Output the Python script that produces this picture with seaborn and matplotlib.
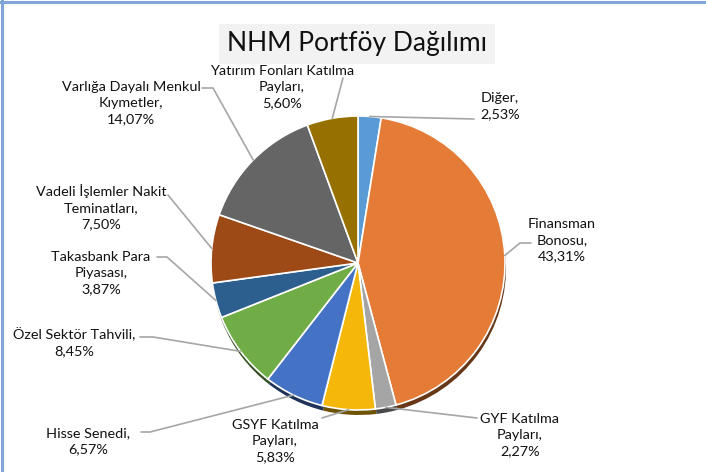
import numpy as np
import matplotlib
matplotlib.use("Agg")
from matplotlib import pyplot as plt
import seaborn as sns

# portfolio shares (%), clockwise from top
categories = ["Diğer", "Finansman Bonosu", "GYF Katılma Payları", "GSYF Katılma Payları",
              "Hisse Senedi", "Özel Sektör Tahvili", "Takasbank Para Piyasası",
              "Vadeli İşlemler Nakit Teminatları", "Varlığa Dayalı Menkul Kıymetler",
              "Yatırım Fonları Katılma Payları"]
shares = [2.53, 43.31, 2.27, 5.83, 6.57, 8.45, 3.87, 7.50, 14.07, 5.60]
label_lines = [["Diğer,"], ["Finansman", "Bonosu,"], ["GYF Katılma", "Payları,"],
               ["GSYF Katılma", "Payları,"], ["Hisse Senedi,"], ["Özel Sektör Tahvili,"],
               ["Takasbank Para", "Piyasası,"], ["Vadeli İşlemler Nakit", "Teminatları,"],
               ["Varlığa Dayalı Menkul", "Kıymetler,"], ["Yatırım Fonları Katılma", "Payları,"]]
colors = ["#5B9BD5", "#E47B36", "#A5A5A5", "#F5B80A", "#4472C4",
          "#70AD47", "#2C5E8E", "#9E4A17", "#656565", "#967000"]

# layout (pixel coords, y down)
label_pos = [(500, 106), (562, 240), (520, 435), (275, 441), (88, 441),
             (74, 342), (101, 273), (101, 207), (131, 103), (282, 87)]
leader_pts = [[(474, 119)], [(520, 243), (531, 243)], [(477, 418)], [(322, 418)],
              [(150, 432), (141, 432)], [(153, 337), (140, 337)], [(167, 257), (157, 257)],
              [(168, 195)], [(213, 88), (202, 88)], [(343, 78)]]
cx, cy, R = 358, 263, 147

sns.set_theme(style="white")
plt.rcParams['font.family'] = ['Lato', 'DejaVu Sans']

fig = plt.figure(figsize=(7.06, 4.72), dpi=100)
ax = fig.add_axes([0, 0, 1, 1])

# shadow underneath for the 3d look
dark = [tuple(c * 0.45 for c in matplotlib.colors.to_rgb(col)) for col in colors]
ax.pie(shares, colors=dark, startangle=-90, counterclock=True, radius=R,
       center=(cx + 1, cy + 5), wedgeprops=dict(linewidth=0), frame=True)
wedges, _ = ax.pie(shares, colors=colors, startangle=-90, counterclock=True, radius=R,
                   center=(cx, cy), wedgeprops=dict(edgecolor="white", linewidth=1.2),
                   frame=True)
ax.set_xlim(0, 706)
ax.set_ylim(472, 0)
ax.axis("off")

for w, lines, val, pos, pts in zip(wedges, label_lines, shares, label_pos, leader_pts):
    mid = np.deg2rad((w.theta1 + w.theta2) / 2)
    x0 = cx + R * np.cos(mid)
    y0 = cy + R * np.sin(mid)
    xs = [x0] + [p[0] for p in pts]
    ys = [y0] + [p[1] for p in pts]
    ax.plot(xs, ys, color="#A6A6A6", lw=1.2, zorder=3)
    txt = "\n".join(lines + [f"{val:.2f}%".replace(".", ",")])
    ax.text(pos[0], pos[1], txt, ha="center", va="center", fontsize=10.4,
            linespacing=1.4, color="#111111", zorder=4)

ax.text(357, 44, "NHM Portföy Dağılımı", ha="center", va="center", fontsize=19,
        color="#111111",
        bbox=dict(boxstyle="square,pad=0.3", fc="#F2F2F2", ec="none"))

# thin blue frame lines at top and left
ax.plot([0, 706], [1.5, 1.5], color="#7EA6D8", lw=2.2, clip_on=False)
ax.plot([1.5, 1.5], [0, 472], color="#7EA6D8", lw=2.2, clip_on=False)

fig.savefig("out.png", dpi=100, facecolor="white")
